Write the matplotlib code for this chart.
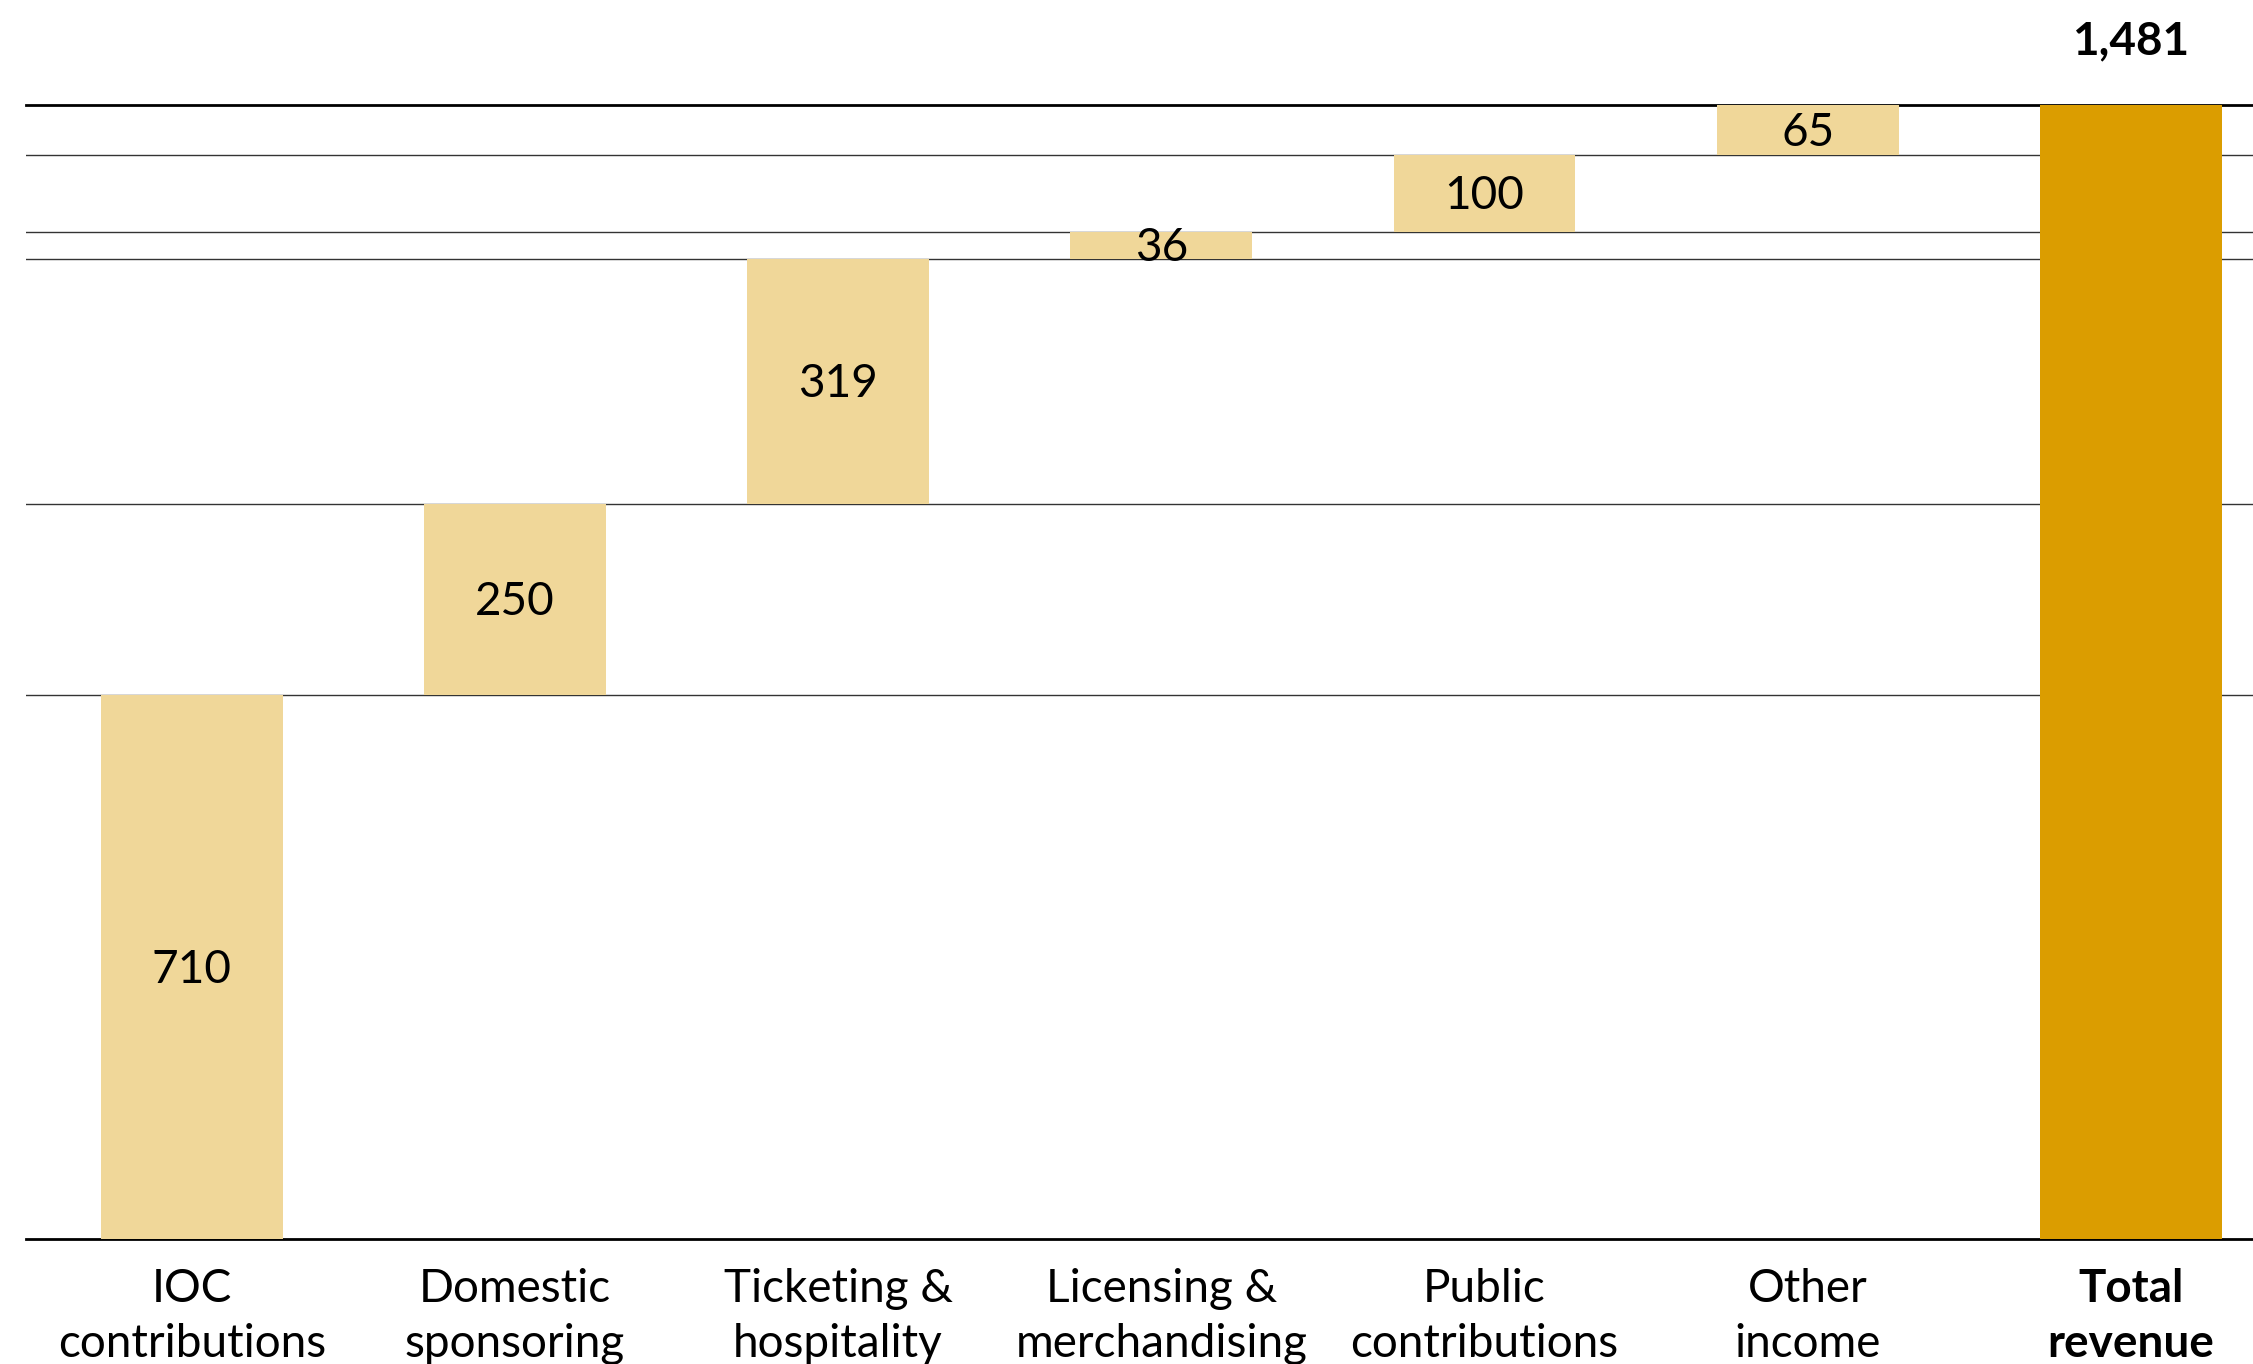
import numpy as np
import matplotlib
matplotlib.use("Agg")
from matplotlib import pyplot as plt

# revenue components (EUR m) and the reported total
categories = ["IOC\ncontributions", "Domestic\nsponsoring", "Ticketing &\nhospitality",
              "Licensing &\nmerchandising", "Public\ncontributions", "Other\nincome"]
values = [710, 250, 319, 36, 100, 65]
total_label = "Total\nrevenue"
total = 1481

light = "#F0D799"
dark = "#DB9D00"
line_col = "#333333"

plt.rcParams['font.family'] = ['Lato', 'DejaVu Sans']

W, H = 2253, 1364
fig = plt.figure(figsize=(W / 100, H / 100), dpi=100)
ax = fig.add_axes([26 / W, 125 / H, 1 - 26 / W, 1134.4 / H])

bottoms = np.concatenate([[0], np.cumsum(values)[:-1]])
tops = np.cumsum(values)
x = np.arange(len(values))
width = 0.563

# level lines at every step of the waterfall
for level in tops[:-1]:
    ax.axhline(level, color=line_col, lw=1.0, zorder=1)
ax.axhline(0, color="black", lw=2.0, zorder=1, clip_on=False)
ax.axhline(total, color="black", lw=2.0, zorder=1, clip_on=False)

ax.bar(x, values, bottom=bottoms, width=width, color=light, zorder=2)
ax.bar(len(values), total, width=width, color=dark, zorder=2)

for xi, b, v in zip(x, bottoms, values):
    ax.annotate(str(v), xy=(xi, b + v / 2), xytext=(0, -2), textcoords="offset points",
                ha="center", va="center", fontsize=33, zorder=3)

ax.annotate(f"{total:,}", xy=(len(values), total), xytext=(0, 36),
            textcoords="offset points", ha="center", va="baseline",
            fontsize=33, fontweight="bold", annotation_clip=False)

labels = categories + [total_label]
for i, lab in enumerate(labels):
    ax.annotate(lab, xy=(i, 0), xytext=(0, -85), textcoords="offset points",
                ha="center", va="baseline", fontsize=33, linespacing=1.38,
                fontweight="bold" if i == len(labels) - 1 else "normal",
                annotation_clip=False)

ax.set_xlim((26 - 191.7) / 323.2, (W - 191.7) / 323.2)
ax.set_ylim(0, total)
ax.axis("off")

fig.savefig("out.png", dpi=100)
